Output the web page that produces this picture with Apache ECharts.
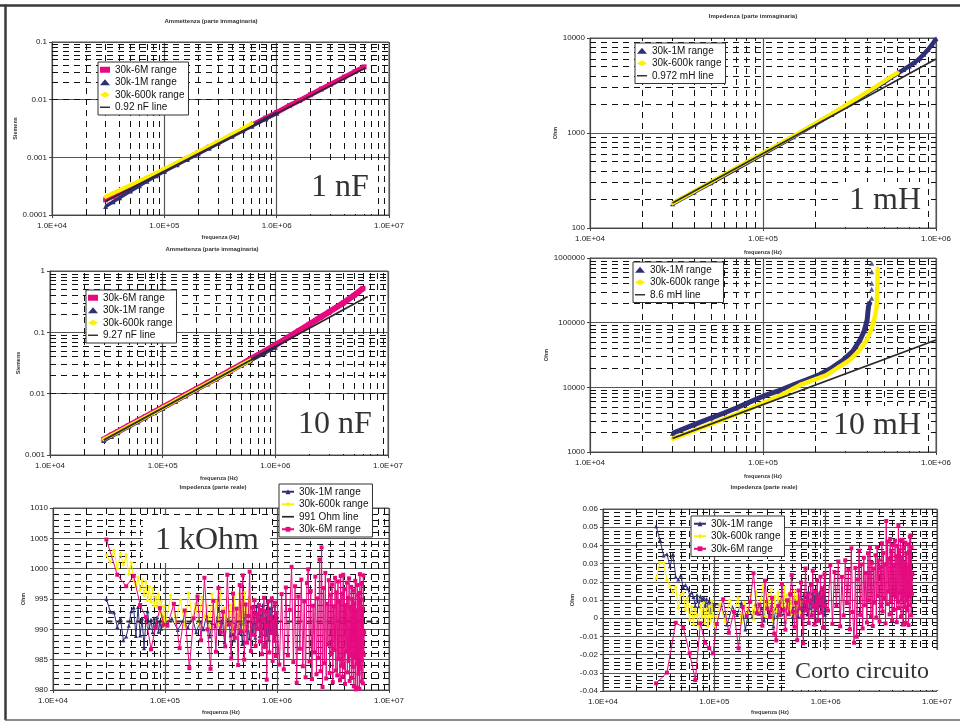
<!DOCTYPE html>
<html><head><meta charset="utf-8">
<script src="https://cdn.jsdelivr.net/npm/echarts@6/dist/echarts.min.js"></script>
<style>html,body{margin:0;padding:0;background:#fff}#c{width:960px;height:722px}</style>
</head><body><div id="c"></div>
<script>
// ---------- DATA ----------
// shared frequency sweep (Hz) for the capacitor plots
const fBand = [3e4,3.5e4,4e4,5e4,6e4,7e4,8.5e4,1e5,1.3e5,1.6e5,2e5,2.5e5,3e5,4e5,5e5,6e5,8e5,1e6,1.3e6,1.6e6,2e6,2.5e6,3e6,4e6,5e6,6e6];
// 1 nF admittance (S)
const y1nF_6M = [1.83e-4,2.12e-4,2.41e-4,3.02e-4,3.6e-4,4.22e-4,5.1e-4,6.0e-4,7.8e-4,9.6e-4,1.2e-3,1.5e-3,1.8e-3,2.4e-3,3.0e-3,3.6e-3,4.8e-3,6.0e-3,7.9e-3,9.7e-3,1.22e-2,1.53e-2,1.84e-2,2.46e-2,3.08e-2,3.7e-2];
const y1nF_1M = [1.40e-4,1.70e-4,2.0e-4,2.6e-4,3.2e-4,3.85e-4,4.8e-4,5.7e-4,7.45e-4,9.2e-4,1.15e-3,1.44e-3,1.73e-3,2.31e-3,2.89e-3,3.47e-3,4.63e-3,5.79e-3];
const y1nF_600k = [2.08e-4,2.4e-4,2.7e-4,3.3e-4,3.9e-4,4.5e-4,5.4e-4,6.3e-4,8.1e-4,1.0e-3,1.25e-3,1.56e-3,1.88e-3,2.5e-3,3.15e-3,3.85e-3];
const f1nF_line = [3e4,6.2e6];
const y1nF_line = [1.73e-4,3.58e-2];
// 10 nF admittance (S)
const y10nF_6M = [1.8e-3,2.1e-3,2.4e-3,3.0e-3,3.6e-3,4.2e-3,5.1e-3,6.0e-3,7.8e-3,9.6e-3,1.2e-2,1.5e-2,1.8e-2,2.4e-2,3.0e-2,3.65e-2,4.9e-2,6.2e-2,8.3e-2,0.105,0.135,0.175,0.215,0.30,0.40,0.52];
const y10nF_1M = [1.72e-3,2.0e-3,2.3e-3,2.88e-3,3.45e-3,4.03e-3,4.9e-3,5.75e-3,7.48e-3,9.2e-3,1.15e-2,1.44e-2,1.72e-2,2.3e-2,2.87e-2,3.44e-2,4.58e-2,5.72e-2];
const y10nF_600k = [1.8e-3,2.08e-3,2.37e-3,2.96e-3,3.55e-3,4.13e-3,5.0e-3,5.9e-3,7.65e-3,9.4e-3,1.18e-2,1.47e-2,1.76e-2,2.35e-2,2.93e-2,3.5e-2];
const f10nF_line = [3e4,6.6e6];
const y10nF_line = [1.75e-3,0.385];
// 1 mH impedance (Ohm)
const f1mH = [3e4,4e4,5e4,7e4,1e5,1.5e5,2e5,2.5e5,3e5,3.5e5,4e5,4.5e5,5e5,5.5e5,6e5,6.5e5,7e5,7.5e5,8e5,8.5e5,9e5,9.5e5,1e6];
const z1mH_1M = [180,240,300,420,605,915,1240,1570,1920,2270,2640,3030,3420,3850,4250,4650,5050,5500,6050,6750,7550,8550,9800];
const z1mH_600k = [182,243,305,430,615,930,1260,1600,1960,2320,2700,3090,3500,3930,4300];
const f1mH_line = [3e4,1e6];
const z1mH_line = [183,6000];
// 10 mH impedance (Ohm)
const f10mH_1M = [3e4,4e4,5e4,6e4,7e4,8e4,1e5,1.25e5,1.5e5,1.8e5,2.13e5,2.5e5,2.91e5,3.3e5,3.64e5,3.85e5,4e5,4.07e5,4.15e5];
const z10mH_1M = [1950,2650,3350,4050,4800,5600,7300,9000,10900,13200,15800,20000,26500,36000,54000,75000,110000,177000,210000];
const f10mH_1Mtop = [4.25e5,4.25e5,4.25e5,4.25e5,4.25e5,4.3e5];
const z10mH_1Mtop = [238000,328000,406000,614000,828000,81000];
const f10mH_600k = [3e4,4e4,5e4,6e4,7e4,8e4,1e5,1.3e5,1.64e5,2e5,2.33e5,2.7e5,3.18e5,3.6e5,3.98e5,4.2e5,4.44e5,4.54e5,4.57e5,4.59e5,4.61e5];
const z10mH_600k = [1600,2150,2700,3250,3850,4450,5700,7800,10900,13300,15500,20000,26500,37000,54000,75000,124000,177000,284000,430000,690000];
const f10mH_line = [3e4,1e6];
const z10mH_line = [1620,54000];
// frequency sweeps (kHz) for the real-part plots
const fNavyK = [30,32.5,35,37.5,40,42.5,45,47.5,50,52.5,55,57.5,60,62.5,65,67.5,70,72.5,75,77.5,80,82.5,85,87.5,90,92.5,95,97.5,100,
115,130,145,160,175,190,205,220,235,250,265,280,295,310,325,340,355,370,385,400,415,430,445,460,475,490,505,520,535,550,
565,580,595,610,625,640,655,670,685,700,715,730,745,760,775,790,805,820,835,850,865,880,895,910,925,940,955,970,985,1000];
const fYellowK = [30,32.5,35,37.5,40,42.5,45,47.5,50,52.5,55,57.5,60,62.5,65,67.5,70,72.5,75,77.5,80,82.5,85,87.5,90,92.5,95,97.5,100,
112.5,125,137.5,150,162.5,175,187.5,200,212.5,225,237.5,250,262.5,275,287.5,300,312.5,325,337.5,350,
362.5,375,387.5,400,412.5,425,437.5,450,462.5,475,487.5,500,512.5,525,537.5,550,562.5,575,587.5,600];
const fPinkK = [30,37.5,45,52.5,60,67.5,75,82.5,90,97.5,
105,120,135,150,165,180,195,210,225,240,255,270,285,300,315,330,345,360,375,390,
405,420,435,450,465,480,495,510,525,540,555,570,585,600,615,630,645,660,675,690,
705,720,735,750,765,780,795,810,825,840,855,870,885,900,915,930,945,960,975,990,
1050,1100,1150,1200,1250,1300,1350,1400,1450,1500,1550,1600,1650,1700,1750,1800,1850,1900,1950,2000,
2050,2100,2150,2200,2250,2300,2350,2400,2450,2500,2550,2600,2650,2700,2750,2800,2850,2900,2950,3000,
3050,3100,3150,3200,3250,3300,3350,3400,3450,3500,3550,3600,3650,3700,3750,3800,3850,3900,3950,4000,
4050,4100,4150,4200,4250,4300,4350,4400,4450,4500,4550,4600,4650,4700,4750,4800,4850,4900,4950,5000,
5050,5100,5150,5200,5250,5300,5350,5400,5450,5500,5550,5600,5650,5700,5750,5800,5850,5900,5950,6000];
// 1 kOhm real part (Ohm)
const zR_1M = [995.0,992.9,992.8,990.4,991.8,988.2,988.8,990.6,993.0,993.6,988.9,993.7,989.0,991.8,986.9,991.5,993.0,990.2,991.6,989.5,991.8,990.8,992.0,989.6,991.3,990.1,992.2,990.6,991.0,
991.8,989.9,991.4,990.3,992.0,989.5,991.2,990.0,992.3,988.8,991.0,990.5,992.1,989.3,991.6,987.9,990.8,991.9,989.0,991.4,
988.2,990.6,992.4,989.4,991.1,987.6,990.9,992.6,989.8,991.3,988.5,990.4,993.2,989.2,992.8,988.6,993.8,990.1,994.2,988.9,
992.5,989.4,994.0,990.3,987.8,993.1,989.1,994.6,990.7,988.3,993.5,990.0,994.8,989.5,992.2,988.6,993.9,990.8,989.2,992.0];
const zR_600k = [1002.2,1001.1,1003.0,1000.0,1002.4,1000.6,1002.3,999.1,1001.0,998.1,997.0,998.6,996.5,998.1,995.6,997.8,994.8,997.0,994.5,996.7,993.9,995.3,993.7,995.8,992.4,994.6,991.0,993.8,990.4,
995.6,991.2,994.8,990.6,996.0,991.8,994.2,990.9,995.3,992.0,993.9,990.3,995.8,991.5,994.6,990.8,996.2,992.3,993.5,990.2,
995.1,991.0,994.0,989.6,995.5,991.7,993.2,990.4,995.9,991.3,994.4,989.9,996.1,990.8,993.6,991.9,995.2,990.1,994.7,991.4];
const zR_6M = [1004.8,999.0,997.1,998.8,994.0,992.0,986.7,990.4,993.5,990.8,
990.6,994.2,986.9,993.1,983.6,991.8,995.4,988.2,998.5,990.0,983.5,994.7,986.3,996.8,989.5,992.9,987.2,999.0,990.8,985.2,
995.9,988.6,993.4,984.1,997.3,989.7,998.9,985.0,994.1,987.8,992.2,999.5,986.4,993.6,989.1,994.8,987.3,992.5,990.1,994.0,
988.0,993.2,985.9,991.7,995.2,987.1,992.9,981.7,990.6,994.6,986.2,992.0,989.4,995.1,984.8,991.3,988.1,994.4,985.6,992.7,
984.2,995.8,983.4,996.9,985.7,993.2,1000.3,984.6,997.1,981.2,995.4,986.8,998.2,983.9,994.6,982.1,997.6,999.9,984.7,996.3,
981.8,993.9,986.2,998.7,982.6,995.1,985.3,1001.5,983.1,1003.5,980.5,996.8,984.4,999.3,981.9,994.2,987.5,998.1,982.8,995.7,
985.9,997.4,981.3,993.8,986.6,998.5,983.2,996.1,982.4,997.9,985.1,994.5,981.6,998.8,984.0,995.9,982.2,999.0,983.7,996.6,
981.0,994.0,986.3,997.7,982.9,995.2,984.8,998.4,981.5,993.6,985.6,997.0,982.0,995.0,983.8,996.4,980.6,994.3,985.4,998.0,
980.1,993.1,984.3,997.3,980.4,995.6,982.7,996.0,980.2,999.1,983.5,994.9,981.4,997.5,984.9,993.4,981.1,998.9,985.8,989.5];
const fR_line = [30,8000];
const zR_line = [991.3,991.3];
// short circuit real part (Ohm)
const zS_1M = [0.0505,0.043,0.0345,0.0352,0.0285,0.0352,0.0228,0.0212,0.0234,0.017,0.0182,0.0164,0.0128,0.0141,0.0117,0.0067,0.0128,0.0065,0.0120,0.0098,0.0114,0.0072,0.0106,0.0045,0.0095,0.0032,0.0088,0.0048,0.0075,
0.0072,-0.0035,0.0061,0.0018,0.0085,-0.0062,0.0043,0.0009,0.0078,0.0025,0.0056,-0.0012,0.0094,0.0031,0.0067,-0.0045,0.0052,0.0015,0.0089,0.0022,
0.0071,-0.0018,0.0063,0.0102,0.0027,0.0084,0.0008,0.0113,0.0041,0.0092,0.0012,0.0125,0.0036,0.0108,0.0003,0.0134,0.0049,0.0117,0.0021,0.0145,
0.0058,0.0101,0.0015,0.0138,0.0064,0.0122,0.0007,0.0152,0.0053,0.0109,0.0028,0.0141,0.0069,0.0118,0.0034,0.0157,0.0075,0.0126,0.0019,0.0098];
const zS_600k = [0.0220,0.0305,0.0302,0.0210,0.0173,0.0146,0.0172,0.0054,0.0128,0.0138,0.0045,0.0112,-0.0008,0.0062,-0.0035,0.0048,0.0018,-0.0042,0.0071,0.0005,0.0083,-0.0028,0.0052,-0.0046,0.0066,-0.0015,0.0094,0.0012,-0.004,
0.0078,-0.0021,0.0098,0.0015,0.0112,-0.0025,0.0085,0.0031,0.0124,-0.0008,0.0146,0.0042,0.0105,0.0183,0.0011,0.0132,0.0057,0.0158,-0.0017,0.0119,
0.0038,0.0141,0.0009,0.0103,0.0065,0.0168,-0.0006,0.0127,0.0048,0.0139,0.0021,0.0112,0.0074,0.0151,0.0016,0.0123,0.0059,0.0135,0.0028,0.0091];
const zS_6M = [-0.0358,-0.0299,-0.0025,-0.005,-0.0193,-0.034,-0.0028,-0.0135,-0.0165,-0.0193,
-0.0032,0.0104,-0.0080,0.0035,-0.0165,0.0062,0.0012,0.0091,0.0247,0.0028,0.0075,-0.0041,0.0206,0.0053,0.0008,0.0112,-0.0085,-0.0122,0.0067,0.0018,
0.0187,0.0044,-0.0063,0.0098,0.0022,0.0131,0.0237,0.0036,-0.0047,0.0085,-0.0121,0.0152,0.0054,0.0196,0.0011,-0.0138,0.0089,0.0273,0.0042,0.0128,
-0.0027,0.0095,0.0183,0.0016,0.0261,0.0072,-0.0035,0.0144,0.0058,0.0207,-0.0014,0.0119,0.0086,0.0228,0.0031,0.0165,-0.0052,0.0137,0.0241,0.0069,
0.0042,0.0291,-0.0031,0.0254,0.0068,0.0312,-0.0045,0.0227,0.0015,0.0318,0.0083,0.0265,-0.0061,0.0384,0.0034,-0.0135,0.0276,-0.0102,0.0213,0.0371,
0.0018,0.0295,-0.0056,0.0332,0.0071,0.0248,-0.0024,0.0357,0.0097,0.0389,0.0012,0.0304,-0.0043,0.0273,0.0085,0.0346,0.0003,0.0391,0.0122,0.0317,
-0.0018,0.0283,0.0064,0.0412,0.0037,0.0358,0.0109,0.0296,-0.0029,0.0534,0.0078,0.0421,0.0146,0.0327,0.0021,0.0435,0.0093,0.0368,-0.0012,0.0402,
0.0131,0.0289,0.0047,0.0426,0.0115,0.0341,-0.0022,0.0398,0.0089,0.0512,0.0056,0.0374,0.0138,0.0427,0.0008,0.0335,0.0102,0.0431,-0.0035,0.0388,
0.0124,0.0302,0.0061,0.0415,-0.0026,0.0357,0.0097,0.0282,0.0043,0.0406,-0.0038,0.0363,0.0118,0.0448,0.0071,0.0455,0.0015,0.0391,0.0134,0.0242];
const xTickExp = ['1.0E+04','1.0E+05','1.0E+06','1.0E+07'];

// ---------- STYLE / BUILD ----------
const FONT='"Liberation Sans", Arial, sans-serif';
const SERIF='"Liberation Serif", "Times New Roman", serif';
const PINK='#E6097F', NAVY='#2F2F74', YEL='#FFF000', BLK='#2A2A2A';
const BAR='path://M0,0L14,0L14,2L0,2Z';
const DASH=[6,5];

function logMinors(a,b){const o=[];for(let e=a;e<b;e++)for(let k=2;k<=9;k++)o.push(Number((k*Math.pow(10,e)).toPrecision(3)));return o;}
const pts=(f,v,k)=>v.map((y,i)=>[f[i]*(k||1),y]).filter(p=>isFinite(p[0]));

const nameStyle={fontSize:5.5,fontWeight:'bold',color:'#333',fontFamily:FONT};
function xLog(gi,max,gap){return {type:'log',logBase:10,gridIndex:gi,min:1e4,max:max,
  name:'frequenza (Hz)',nameLocation:'middle',nameGap:gap,nameTextStyle:nameStyle,
  axisLine:{show:true,lineStyle:{color:'#444',width:1}},
  axisTick:{show:true,length:3,lineStyle:{color:'#444'}},
  axisLabel:{fontSize:8,color:'#222',margin:7,fontFamily:FONT,showMinLabel:true,showMaxLabel:true,
    formatter:v=>xTickExp[Math.round(Math.log10(v))-4]},
  splitLine:{show:true,lineStyle:{color:'#555',width:1.2}},
  minorTick:{show:false},minorSplitLine:{show:false}};}
function yLog(gi,min,max,gap,name){return {type:'log',logBase:10,gridIndex:gi,min,max,
  name,nameLocation:'middle',nameGap:gap,nameRotate:90,nameTextStyle:nameStyle,
  axisLine:{show:true,lineStyle:{color:'#444',width:1}},
  axisTick:{show:true,length:3,lineStyle:{color:'#444'}},
  axisLabel:{fontSize:8,color:'#222',margin:5,fontFamily:FONT,showMinLabel:true,showMaxLabel:true,
    formatter:v=>String(Number(v.toPrecision(4)))},
  splitLine:{show:true,lineStyle:{color:'#555',width:1.2}},
  minorTick:{show:false},minorSplitLine:{show:false}};}
function yLin(gi,min,max,interval,gap,fmt){return {type:'value',gridIndex:gi,min,max,interval,
  name:'Ohm',nameLocation:'middle',nameGap:gap,nameRotate:90,nameTextStyle:nameStyle,
  axisLine:{show:true,lineStyle:{color:'#444',width:1}},
  axisTick:{show:true,length:3,lineStyle:{color:'#444'}},
  axisLabel:{fontSize:8,color:'#222',margin:5,fontFamily:FONT,formatter:fmt},
  splitLine:{show:true,lineStyle:{color:'#555',width:1.2}},
  minorTick:{show:false,splitNumber:5},
  minorSplitLine:{show:true,lineStyle:{color:'#111',width:1,type:DASH}}};}

function minor(gi,xs,ys){return {type:'line',name:'_minor'+gi,xAxisIndex:gi,yAxisIndex:gi,data:[],silent:true,z:1,
  markLine:{silent:true,z:1,symbol:['none','none'],label:{show:false},animation:false,
    lineStyle:{color:'#111',width:1,type:DASH},emphasis:{disabled:true},
    data:xs.map(v=>({xAxis:v})).concat(ys.map(v=>({yAxis:v})))}};}
function band(name,gi,f,v,color,symbol,w,z){return {type:'line',name,xAxisIndex:gi,yAxisIndex:gi,data:pts(f,v),
  symbol,symbolSize:5,showSymbol:true,lineStyle:{color,width:w},itemStyle:{color},z,silent:true,emphasis:{disabled:true}};}
function dots(name,gi,f,v,color,symbol,z){return {type:'scatter',name,xAxisIndex:gi,yAxisIndex:gi,data:pts(f,v),
  symbol,symbolSize:5,itemStyle:{color},z,silent:true};}
function fit(name,gi,f,v,w,z,type,k){return {type:'line',name,xAxisIndex:gi,yAxisIndex:gi,data:pts(f,v,k),
  symbol:'none',lineStyle:{color:BLK,width:w,type:type||'solid'},itemStyle:{color:BLK},z,silent:true};}
function noisy(name,gi,fK,v,color,symbol,z){return {type:'line',name,xAxisIndex:gi,yAxisIndex:gi,data:pts(fK,v,1e3),
  symbol,symbolSize:4,showSymbol:true,showAllSymbol:true,lineStyle:{color,width:1},itemStyle:{color},z,silent:true};}
function leg(left,top,items,iw){return {left,top,orient:'vertical',data:items,selectedMode:false,
  backgroundColor:'#fff',borderColor:'#333',borderWidth:1,padding:[2,4,2,2],itemGap:1,itemWidth:iw||10,itemHeight:6,
  textStyle:{fontSize:10,color:'#111',fontFamily:FONT,lineHeight:11.5},formatter:n=>n.split('#')[0],z:50};}

const grids=[
  {left:52,top:42,width:337,height:173},
  {left:590,top:38,width:346,height:190},
  {left:50,top:271,width:338,height:184},
  {left:590,top:258,width:346,height:194},
  {left:53,top:508,width:336,height:182},
  {left:603,top:509,width:334,height:182}
].map(g=>Object.assign({show:true,borderColor:'#555',borderWidth:1,backgroundColor:'transparent',containLabel:false,outerBoundsMode:'none'},g));

const series=[
  minor(0,logMinors(4,7),logMinors(-4,-1)),
  band('30k-6M range#0',0,fBand,y1nF_6M,PINK,'rect',5,3),
  band('30k-1M range#0',0,fBand,y1nF_1M,NAVY,'triangle',3.5,4),
  band('30k-600k range#0',0,fBand,y1nF_600k,YEL,'diamond',4,5),
  fit('0.92 nF line#0',0,f1nF_line,y1nF_line,1.8,6),

  minor(1,logMinors(4,6),logMinors(2,4)),
  band('30k-1M range#1',1,f1mH,z1mH_1M,NAVY,'triangle',4.5,3),
  band('30k-600k range#1',1,f1mH,z1mH_600k,YEL,'diamond',4,4),
  fit('0.972 mH line#1',1,f1mH_line,z1mH_line,1.8,6),

  minor(2,logMinors(4,7),logMinors(-3,0)),
  band('30k-6M range#2',2,fBand,y10nF_6M,PINK,'rect',6,3),
  band('30k-1M range#2',2,fBand,y10nF_1M,NAVY,'triangle',3.5,4),
  band('30k-600k range#2',2,fBand,y10nF_600k,YEL,'diamond',4,5),
  fit('9.27 nF line#2',2,f10nF_line,y10nF_line,1.8,6),

  minor(3,logMinors(4,6),logMinors(3,6)),
  band('30k-1M range#3',3,f10mH_1M,z10mH_1M,NAVY,'triangle',5,3),
  dots('_top3',3,f10mH_1Mtop,z10mH_1Mtop,NAVY,'triangle',3),
  band('30k-600k range#3',3,f10mH_600k,z10mH_600k,YEL,'diamond',4.5,4),
  fit('8.6 mH line#3',3,f10mH_line,z10mH_line,1.8,6),

  minor(4,logMinors(4,7),[]),
  noisy('30k-1M range#4',4,fNavyK,zR_1M,NAVY,'triangle',3),
  noisy('30k-600k range#4',4,fYellowK,zR_600k,YEL,'diamond',4),
  fit('991 Ohm line#4',4,fR_line,zR_line,2,5,[6,4],1e3),
  noisy('30k-6M range#4',4,fPinkK,zR_6M,PINK,'rect',6),

  minor(5,logMinors(4,7),[]),
  noisy('30k-1M range#5',5,fNavyK,zS_1M,NAVY,'triangle',3),
  noisy('30k-600k range#5',5,fYellowK,zS_600k,YEL,'diamond',4),
  noisy('30k-6M range#5',5,fPinkK,zS_6M,PINK,'rect',6)
];

const legends=[
  leg(98,62,[{name:'30k-6M range#0',icon:'rect'},{name:'30k-1M range#0',icon:'triangle'},{name:'30k-600k range#0',icon:'diamond'},{name:'0.92 nF line#0',icon:BAR}]),
  leg(635,43,[{name:'30k-1M range#1',icon:'triangle'},{name:'30k-600k range#1',icon:'diamond'},{name:'0.972 mH line#1',icon:BAR}]),
  leg(86,290,[{name:'30k-6M range#2',icon:'rect'},{name:'30k-1M range#2',icon:'triangle'},{name:'30k-600k range#2',icon:'diamond'},{name:'9.27 nF line#2',icon:BAR}]),
  leg(633,262,[{name:'30k-1M range#3',icon:'triangle'},{name:'30k-600k range#3',icon:'diamond'},{name:'8.6 mH line#3',icon:BAR}]),
  leg(279,484,[{name:'30k-1M range#4'},{name:'30k-600k range#4'},{name:'991 Ohm line#4',icon:BAR},{name:'30k-6M range#4'}],12),
  leg(691,516,[{name:'30k-1M range#5'},{name:'30k-600k range#5'},{name:'30k-6M range#5'}],12)
];

function title(x,y,t){return {type:'text',x,y,z:100,silent:true,style:{text:t,font:'bold 6px '+FONT,fill:'#333',align:'center',verticalAlign:'middle',textAlign:'center',textVerticalAlign:'middle'}};}
function note(x,y,w,h,cx,cy,t,size){return [
  {type:'rect',shape:{x,y,width:w,height:h},style:{fill:'#fff'},z:90,silent:true},
  {type:'text',x:cx,y:cy,z:91,silent:true,style:{text:t,font:size+'px '+SERIF,fill:'#333',align:'center',verticalAlign:'middle',textAlign:'center',textVerticalAlign:'middle'}}];}

const elements=[
  {type:'line',shape:{x1:0,y1:5.5,x2:960,y2:5.5},style:{stroke:'#3a3a3a',lineWidth:2.5},z:100,silent:true},
  {type:'line',shape:{x1:5.5,y1:4.5,x2:5.5,y2:720},style:{stroke:'#3a3a3a',lineWidth:2.5},z:100,silent:true},
  {type:'line',shape:{x1:5,y1:720,x2:960,y2:720},style:{stroke:'#666',lineWidth:1.5},z:100,silent:true},
  title(211,21,'Ammettenza (parte immaginaria)'),
  title(753,16,'Impedenza (parte immaginaria)'),
  title(212,249,'Ammettenza (parte immaginaria)'),
  title(213,487,'Impedenza (parte reale)'),
  title(764,487,'Impedenza (parte reale)')
].concat(
  note(300,160,78,54,340,188,'1 nF',32),
  note(838,182,90,45,885,201,'1 mH',32),
  note(293,405,85,49,335,425,'10 nF',32),
  note(830,406,98,45,877,426,'10 mH',32),
  note(143,515,127,48,207,541,'1 kOhm',32),
  note(785,650,155,40,862,672,'Corto circuito',24)
);

const chart=echarts.init(document.getElementById('c'),null,{renderer:'canvas'});
chart.setOption({
  animation:false,
  backgroundColor:'#fff',
  grid:grids,
  xAxis:[xLog(0,1e7,19),xLog(1,1e6,21),xLog(2,1e7,20),xLog(3,1e6,21),xLog(4,1e7,19),xLog(5,1e7,18)],
  yAxis:[yLog(0,1e-4,0.1,30,'Siemens'),yLog(1,100,10000,30,'Ohm'),yLog(2,1e-3,1,28,'Siemens'),yLog(3,1000,1e6,41,'Ohm'),
         yLin(4,980,1010,5,26,v=>String(v)),yLin(5,-0.04,0.06,0.01,25,v=>String(Number(v.toFixed(3))))],
  legend:legends,
  series:series,
  graphic:{elements}
});
</script></body></html>
